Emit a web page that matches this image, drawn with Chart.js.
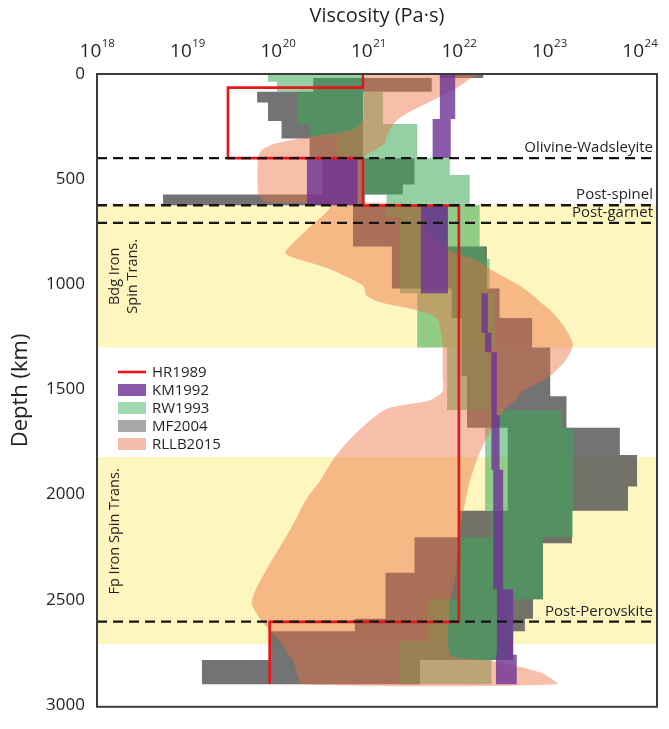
<!DOCTYPE html>
<html>
<head>
<meta charset="utf-8">
<script src="https://cdn.jsdelivr.net/npm/chart.js@4.4.1/dist/chart.umd.min.js"></script>
<style>
  html, body { margin: 0; padding: 0; background: #ffffff; }
  canvas { display: block; }
</style>
</head>
<body>
<canvas id="chart" width="669" height="729"></canvas>
<script>
// ---- axis ticks ----
const viscosityTickExponents = [18, 19, 20, 21, 22, 23, 24];
const depthTicks = [0, 500, 1000, 1500, 2000, 2500, 3000];
const viscosityAxisMin = 1e18;
const viscosityAxisMax = 1.55e24;
const depthAxisMax = 3009;

// ---- HR1989: layered profile, boundaries in km, viscosity per layer in Pa·s ----
const hrDepths = [0, 65, 400, 625, 2605, 2900];
const hrViscosity = [8.7e20, 2.8e19, 8.7e20, 1.0e22, 8.1e19];

// ---- KM1992: layer boundaries (km) and log10 viscosity range per layer ----
const kmDepths = [0, 214, 400, 624, 1043, 1230, 1323, 1621, 1882, 2450, 2762, 2902];
const kmLogMin = [21.79, 21.71, 20.32, 21.58, 22.25, 22.29, 22.36, 22.36, 22.38, 22.42, 22.41];
const kmLogMax = [21.96, 21.91, 20.88, 21.88, 22.32, 22.36, 22.42, 22.45, 22.49, 22.60, 22.64];

// ---- RW1993 ----
const rwDepths = [0, 37, 84, 238, 298, 401, 480, 573, 624, 680, 820, 880, 1043, 1300, 1598, 1682, 2077, 2203, 2497, 2697, 2786, 2902];
const rwLogMin = [19.89, 19.99, 20.22, 20.35, 20.65, 20.94, 20.94, 21.20, 21.20, 21.35, 21.35, 21.35, 21.54, 21.87, 22.34, 22.29, 22.36, 22.01, 21.65, 21.35, 21.35];
const rwLogMax = [20.94, 20.94, 21.16, 21.54, 21.54, 21.90, 22.12, 22.12, 22.23, 22.23, 22.29, 22.34, 22.40, 22.34, 23.14, 23.26, 23.26, 22.93, 22.60, 22.51, 22.36];

// ---- MF2004 ----
const mfDepths = [0, 19, 84, 135, 224, 307, 401, 526, 573, 624, 820, 1020, 1160, 1300, 1435, 1532, 1682, 1812, 1961, 2077, 2203, 2231, 2371, 2497, 2590, 2650, 2786, 2902];
const mfLogMin = [21.79, 20.39, 19.77, 19.89, 20.04, 20.35, 20.49, 20.49, 18.73, 20.83, 21.26, 21.92, 22.03, 22.03, 22.09, 22.09, 22.54, 22.54, 22.54, 22.01, 21.51, 21.51, 21.19, 21.19, 20.85, 19.91, 19.16];
const mfLogMax = [22.27, 21.70, 20.94, 20.94, 20.94, 20.94, 21.51, 21.38, 20.96, 21.87, 22.31, 22.45, 22.81, 23.01, 23.01, 23.19, 23.78, 23.97, 23.87, 23.25, 23.25, 22.93, 22.93, 22.82, 22.73, 22.60, 21.57];

// ---- RLLB2015: smooth envelope, log10 viscosity bounds at each depth ----
const rlDepths = [0, 14, 51, 84, 121, 168, 214, 261, 298, 331, 363, 401, 564, 601, 610, 629, 741, 820, 852, 880, 927, 1006, 1053, 1085, 1123, 1160, 1206, 1286, 1355, 1435, 1509, 1551, 1593, 1705, 1821, 1938, 2017, 2171, 2390, 2511, 2590, 2697, 2767, 2790, 2846, 2902];
const rlLogMin = [20.96, 20.96, 20.95, 20.95, 20.95, 20.95, 20.94, 20.85, 20.35, 19.97, 19.82, 19.78, 19.78, 19.83, 19.88, 20.57, 20.32, 20.13, 20.08, 20.22, 20.57, 20.94, 20.98, 21.13, 21.54, 21.76, 21.79, 21.82, 21.82, 21.82, 21.82, 21.68, 21.20, 20.87, 20.63, 20.46, 20.32, 20.13, 19.83, 19.71, 19.80, 20.02, 20.13, 20.17, 20.21, 20.27];
const rlLogMax = [22.25, 22.15, 22.03, 21.90, 21.73, 21.51, 21.33, 21.24, 21.20, 21.18, 21.07, 20.94, 20.94, 20.94, 20.94, 21.57, 21.65, 21.85, 21.96, 22.18, 22.34, 22.67, 22.82, 22.90, 23.01, 23.09, 23.17, 23.26, 23.19, 23.01, 22.71, 22.62, 22.51, 22.34, 22.21, 22.12, 22.08, 22.01, 21.96, 21.90, 21.89, 21.88, 21.92, 22.36, 22.90, 23.08];

// ---- spin transition zones (km) ----
const spinZoneTops = [624, 1821];
const spinZoneBottoms = [1300, 2711];

// ---- phase boundaries (km) ----
const boundaryDepths = [400, 624, 708, 2604];
const boundaryNames = ['Olivine-Wadsleyite', 'Post-spinel', 'Post-garnet', 'Post-Perovskite'];

const FONT = "'Open Sans', 'DejaVu Sans', sans-serif";
const TEXT = '#231f20';
const COLORS = {
  hr: '#e8141b',
  km: 'rgba(110, 50, 150, 0.80)',
  rw: 'rgba(60, 170, 90, 0.55)',
  mf: 'rgba(90, 90, 90, 0.85)',
  rl: 'rgba(237, 110, 66, 0.45)',
  zone: 'rgb(253, 246, 190)'
};

// Closed outline of a layered min/max band: right side downward, left side back up.
function stepBand(depths, logMin, logMax) {
  const pts = [];
  for (let i = 0; i < logMax.length; i++) {
    pts.push({ x: Math.pow(10, logMax[i]), y: depths[i] });
    pts.push({ x: Math.pow(10, logMax[i]), y: depths[i + 1] });
  }
  for (let i = logMin.length - 1; i >= 0; i--) {
    pts.push({ x: Math.pow(10, logMin[i]), y: depths[i + 1] });
    pts.push({ x: Math.pow(10, logMin[i]), y: depths[i] });
  }
  return pts;
}

// Closed outline of a smooth envelope sampled at given depths.
function smoothBand(depths, logMin, logMax) {
  const pts = [];
  for (let i = 0; i < depths.length; i++) pts.push({ x: Math.pow(10, logMin[i]), y: depths[i] });
  for (let i = depths.length - 1; i >= 0; i--) pts.push({ x: Math.pow(10, logMax[i]), y: depths[i] });
  return pts;
}

function stepLine(depths, values) {
  const pts = [];
  for (let i = 0; i < values.length; i++) {
    pts.push({ x: values[i], y: depths[i] });
    pts.push({ x: values[i], y: depths[i + 1] });
  }
  return pts;
}

function shapeDataset(label, data, color, order, tension) {
  return {
    label, data, order,
    showLine: true,
    fill: 'shape',
    backgroundColor: color,
    borderColor: 'rgba(0,0,0,0)',
    borderWidth: 0,
    pointRadius: 0,
    pointHoverRadius: 0,
    tension: tension || 0
  };
}

const datasets = [];

spinZoneTops.forEach((top, i) => {
  datasets.push(shapeDataset('zone' + i, [
    { x: viscosityAxisMin, y: top }, { x: viscosityAxisMax, y: top },
    { x: viscosityAxisMax, y: spinZoneBottoms[i] }, { x: viscosityAxisMin, y: spinZoneBottoms[i] }
  ], COLORS.zone, 9));
});

datasets.push(shapeDataset('MF2004', stepBand(mfDepths, mfLogMin, mfLogMax), COLORS.mf, 8));
datasets.push(shapeDataset('RW1993', stepBand(rwDepths, rwLogMin, rwLogMax), COLORS.rw, 7));
datasets.push(shapeDataset('RLLB2015', smoothBand(rlDepths, rlLogMin, rlLogMax), COLORS.rl, 6, 0.25));
datasets.push(shapeDataset('KM1992', stepBand(kmDepths, kmLogMin, kmLogMax), COLORS.km, 5));

datasets.push({
  label: 'HR1989',
  data: stepLine(hrDepths, hrViscosity),
  order: 4,
  showLine: true,
  fill: false,
  borderColor: COLORS.hr,
  borderWidth: 2.6,
  pointRadius: 0,
  pointHoverRadius: 0,
  tension: 0
});

boundaryDepths.forEach((d, i) => {
  datasets.push({
    label: boundaryNames[i],
    data: [{ x: viscosityAxisMin, y: d }, { x: viscosityAxisMax, y: d }],
    order: 1,
    showLine: true,
    fill: false,
    borderColor: '#151515',
    borderWidth: 2.4,
    borderDash: [10, 6],
    pointRadius: 0,
    pointHoverRadius: 0
  });
});

const legendItems = [
  { label: 'HR1989', kind: 'line', color: COLORS.hr },
  { label: 'KM1992', kind: 'box', color: 'rgb(137, 88, 168)' },
  { label: 'RW1993', kind: 'box', color: 'rgb(160, 214, 176)' },
  { label: 'MF2004', kind: 'box', color: 'rgb(168, 168, 168)' },
  { label: 'RLLB2015', kind: 'box', color: 'rgb(246, 190, 170)' }
];

const decorations = {
  id: 'decorations',
  afterDatasetsDraw(chart) {
    const { ctx, chartArea, scales } = chart;
    const ys = scales.y;
    ctx.save();
    ctx.fillStyle = TEXT;
    // phase boundary names, right-aligned above each dashed line
    ctx.font = `15px ${FONT}`;
    ctx.textAlign = 'right';
    ctx.textBaseline = 'middle';
    boundaryDepths.forEach((d, i) => {
      ctx.fillText(boundaryNames[i], chartArea.right - 4, ys.getPixelForValue(d) - 10);
    });
    // spin transition zone names, vertical
    ctx.font = `14.5px ${FONT}`;
    ctx.textAlign = 'center';
    const vtext = (t, x, y) => {
      ctx.save();
      ctx.translate(x, y);
      ctx.rotate(-Math.PI / 2);
      ctx.fillText(t, 0, 0);
      ctx.restore();
    };
    const bdgY = ys.getPixelForValue((spinZoneTops[0] + spinZoneBottoms[0]) / 2);
    vtext('Bdg Iron', chartArea.left + 18, bdgY);
    vtext('Spin Trans.', chartArea.left + 36, bdgY);
    vtext('Fp Iron Spin Trans.', chartArea.left + 18, ys.getPixelForValue(2175));

    // legend
    ctx.textAlign = 'left';
    ctx.font = `15px ${FONT}`;
    const lx = chartArea.left + 21;
    legendItems.forEach((it, i) => {
      const cy = 372 + i * 18;
      if (it.kind === 'line') {
        ctx.strokeStyle = it.color;
        ctx.lineWidth = 2.6;
        ctx.beginPath();
        ctx.moveTo(lx, cy);
        ctx.lineTo(lx + 28, cy);
        ctx.stroke();
      } else {
        ctx.fillStyle = it.color;
        ctx.fillRect(lx, cy - 6, 28, 12);
      }
      ctx.fillStyle = TEXT;
      ctx.fillText(it.label, lx + 34, cy + 1);
    });
    ctx.restore();
  },
  afterDraw(chart) {
    const { ctx, chartArea, scales } = chart;
    const xs = scales.x;
    ctx.save();
    // plot frame
    ctx.strokeStyle = '#3c3c3c';
    ctx.lineWidth = 2;
    ctx.strokeRect(chartArea.left, chartArea.top, chartArea.right - chartArea.left, chartArea.bottom - chartArea.top);
    // power-of-ten tick labels along the top
    ctx.fillStyle = TEXT;
    ctx.textBaseline = 'alphabetic';
    ctx.textAlign = 'left';
    viscosityTickExponents.forEach(e => {
      const x = xs.getPixelForValue(Math.pow(10, e));
      ctx.font = `19px ${FONT}`;
      const w1 = ctx.measureText('10').width;
      ctx.font = `11.5px ${FONT}`;
      const w2 = ctx.measureText(String(e)).width;
      const start = x - (w1 + w2) / 2;
      ctx.font = `19px ${FONT}`;
      ctx.fillText('10', start, 57);
      ctx.font = `11.5px ${FONT}`;
      ctx.fillText(String(e), start + w1 + 0.5, 47);
    });
    ctx.restore();
  }
};

Chart.defaults.font.family = FONT;
Chart.defaults.color = TEXT;

new Chart(document.getElementById('chart'), {
  type: 'scatter',
  data: { datasets },
  options: {
    responsive: false,
    devicePixelRatio: 1,
    animation: false,
    events: [],
    layout: { padding: { left: 0, right: 12, top: 0, bottom: 9 } },
    plugins: {
      legend: { display: false },
      tooltip: { enabled: false },
      filler: { propagate: false }
    },
    scales: {
      x: {
        type: 'logarithmic',
        position: 'top',
        min: viscosityAxisMin,
        max: viscosityAxisMax,
        grid: { display: false, drawTicks: false },
        border: { display: false },
        ticks: { display: false },
        title: {
          display: true,
          text: 'Viscosity (Pa·s)',
          font: { size: 20 },
          color: TEXT,
          padding: { top: 4, bottom: 0 }
        },
        afterBuildTicks: s => { s.ticks = viscosityTickExponents.map(e => ({ value: Math.pow(10, e) })); },
        afterFit: s => { s.height = 74; }
      },
      y: {
        type: 'linear',
        reverse: true,
        min: 0,
        max: depthAxisMax,
        grid: { display: false, drawTicks: false },
        border: { display: false },
        ticks: { font: { size: 17 }, color: TEXT, padding: 12, callback: v => String(v) },
        title: {
          display: true,
          text: 'Depth (km)',
          font: { size: 22 },
          color: TEXT,
          padding: { top: 8, bottom: 0 }
        },
        afterBuildTicks: s => { s.ticks = depthTicks.map(v => ({ value: v })); },
        afterFit: s => { s.width = 97; }
      }
    }
  },
  plugins: [decorations]
});
</script>
</body>
</html>
